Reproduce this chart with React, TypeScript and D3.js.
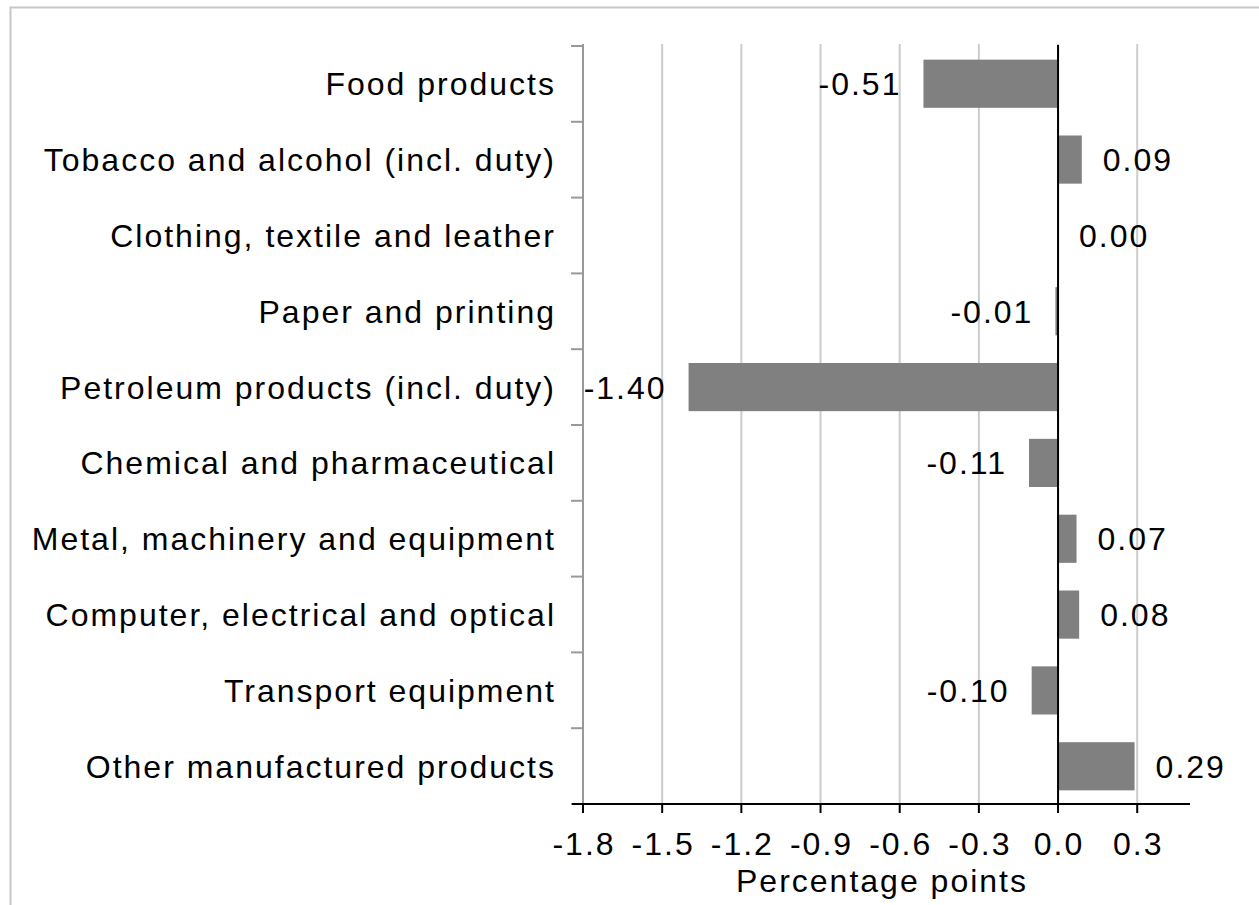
import React, { useEffect, useRef } from "react";
import * as d3 from "d3";

const categories = [
  "Food products",
  "Tobacco and alcohol (incl. duty)",
  "Clothing, textile and leather",
  "Paper and printing",
  "Petroleum products (incl. duty)",
  "Chemical and pharmaceutical",
  "Metal, machinery and equipment",
  "Computer, electrical and optical",
  "Transport equipment",
  "Other manufactured products",
];
const values = [-0.51, 0.09, 0.0, -0.01, -1.4, -0.11, 0.07, 0.08, -0.1, 0.29];
const xTicks = [-1.8, -1.5, -1.2, -0.9, -0.6, -0.3, 0.0, 0.3];
const xTitle = "Percentage points";

const App = () => {
  const ref = useRef<SVGSVGElement | null>(null);

  useEffect(() => {
    const svg = d3.select(ref.current);
    svg.selectAll("*").remove();

    const width = 1259;
    const height = 905;
    const font = "'Liberation Sans', Arial, sans-serif";
    const fontSize = 32;
    const spacing = "2px";

    const dataset = categories.map((c, i) => ({ name: c, value: values[i] }));

    const xScale = d3.scaleLinear().domain([-1.8, 0.5]).range([583, 1190]);
    const yScale = d3
      .scaleBand()
      .domain(categories)
      .range([46, 804])
      .paddingInner(0.365)
      .paddingOuter(0.18);
    const yBands = d3.scaleBand().domain(categories).range([46, 804]);

    // outer frame
    svg
      .append("rect")
      .attr("x", 10.5)
      .attr("y", 7.5)
      .attr("width", width)
      .attr("height", height)
      .attr("fill", "#fff")
      .attr("stroke", "#c8c8c8")
      .attr("stroke-width", 2);

    // grid lines
    svg
      .append("g")
      .selectAll("line")
      .data(xTicks)
      .join("line")
      .attr("x1", (d) => xScale(d))
      .attr("x2", (d) => xScale(d))
      .attr("y1", 44)
      .attr("y2", 804)
      .attr("stroke", "#cccccc")
      .attr("stroke-width", 2);

    // y axis (gray)
    const yAxis = svg.append("g");
    yAxis
      .append("line")
      .attr("x1", 583)
      .attr("x2", 583)
      .attr("y1", 44)
      .attr("y2", 804)
      .attr("stroke", "#999")
      .attr("stroke-width", 2);
    const bandEdges = categories.map((c) => yBands(c) as number).concat([804]);
    yAxis
      .selectAll("line.tick")
      .data(bandEdges)
      .join("line")
      .attr("class", "tick")
      .attr("x1", 571)
      .attr("x2", 583)
      .attr("y1", (d) => d)
      .attr("y2", (d) => d)
      .attr("stroke", "#999")
      .attr("stroke-width", 2);

    // category labels
    svg
      .append("g")
      .selectAll("text")
      .data(dataset)
      .join("text")
      .attr("x", 556)
      .attr("y", (d) => (yBands(d.name) as number) + yBands.bandwidth() / 2)
      .attr("dy", "0.36em")
      .attr("text-anchor", "end")
      .style("font-family", font)
      .style("font-size", fontSize + "px")
      .style("letter-spacing", spacing)
      .attr("fill", "#000")
      .text((d) => d.name);

    // bars
    svg
      .append("g")
      .selectAll("rect")
      .data(dataset)
      .join("rect")
      .attr("x", (d) => xScale(Math.min(0, d.value)))
      .attr("width", (d) => Math.abs(xScale(d.value) - xScale(0)))
      .attr("y", (d) => yScale(d.name) as number)
      .attr("height", yScale.bandwidth())
      .attr("fill", "#808080");

    // value labels
    svg
      .append("g")
      .selectAll("text")
      .data(dataset)
      .join("text")
      .attr("x", (d) => (d.value < 0 ? xScale(d.value) - 22 : xScale(d.value) + 21))
      .attr("y", (d) => (yBands(d.name) as number) + yBands.bandwidth() / 2)
      .attr("dy", "0.36em")
      .attr("text-anchor", (d) => (d.value < 0 ? "end" : "start"))
      .style("font-family", font)
      .style("font-size", fontSize + "px")
      .style("letter-spacing", spacing)
      .attr("fill", "#000")
      .text((d) => d.value.toFixed(2));

    // zero line
    svg
      .append("line")
      .attr("x1", xScale(0))
      .attr("x2", xScale(0))
      .attr("y1", 45)
      .attr("y2", 804)
      .attr("stroke", "#000")
      .attr("stroke-width", 2);

    // x axis
    const xAxis = svg.append("g");
    xAxis
      .append("line")
      .attr("x1", 572)
      .attr("x2", 1190)
      .attr("y1", 804)
      .attr("y2", 804)
      .attr("stroke", "#000")
      .attr("stroke-width", 2);
    xAxis
      .selectAll("line.tick")
      .data(xTicks)
      .join("line")
      .attr("class", "tick")
      .attr("x1", (d) => xScale(d))
      .attr("x2", (d) => xScale(d))
      .attr("y1", 804)
      .attr("y2", 813)
      .attr("stroke", "#000")
      .attr("stroke-width", 2);
    xAxis
      .selectAll("text")
      .data(xTicks)
      .join("text")
      .attr("x", (d) => xScale(d) + 1)
      .attr("y", 855)
      .attr("text-anchor", "middle")
      .style("font-family", font)
      .style("font-size", fontSize + "px")
      .style("letter-spacing", spacing)
      .attr("fill", "#000")
      .text((d) => d.toFixed(1));

    svg
      .append("text")
      .attr("x", 882)
      .attr("y", 892)
      .attr("text-anchor", "middle")
      .style("font-family", font)
      .style("font-size", fontSize + "px")
      .style("letter-spacing", spacing)
      .attr("fill", "#000")
      .text(xTitle);
  }, []);

  return (
    <div style={{ position: "absolute", top: 0, left: 0 }}>
      <svg ref={ref} width={1259} height={905} style={{ display: "block" }} />
    </div>
  );
};

export default App;
